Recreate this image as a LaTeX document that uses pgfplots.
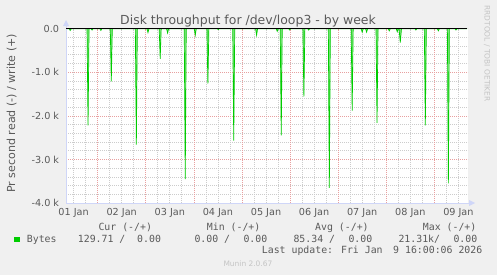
\documentclass[border=0pt]{standalone}
\usepackage{pgfplots}
\pgfplotsset{compat=1.18}
\usepackage{fontspec}
\setmainfont{DejaVu Sans}
\newfontfamily\mono{DejaVu Sans Mono}
\definecolor{bg}{HTML}{F0F0F0}
\definecolor{txt}{HTML}{5A5A5A}
\definecolor{axb}{HTML}{CFD6F8}
\definecolor{mgrid}{HTML}{E8A0A0}
\definecolor{ngrid}{HTML}{CCCCCC}
\definecolor{mgreen}{HTML}{00CC00}
\definecolor{wm}{HTML}{C4C4C4}
\begin{document}
\begin{tikzpicture}[x=1bp,y=1bp]
\fill[bg] (0,0) rectangle (497,275);
\useasboundingbox (0,0) rectangle (497,275);
\coordinate (axsw) at (66,72);
\begin{axis}[
  at={(axsw)}, anchor=south west,
  scale only axis, width=402bp, height=174.3bp,
  xmin=8.2, xmax=208.8, ymin=-4000, ymax=0,
  axis line style={draw=none},
  axis background/.style={fill=white},
  scaled y ticks=false,
  major tick length=0pt, minor tick length=0pt,
  tick label style={font=\fontsize{9.7}{11}\selectfont, text=txt},
  xtick={12,36,60,84,108,132,156,180,204},
  xticklabels={01 Jan,02 Jan,03 Jan,04 Jan,05 Jan,06 Jan,07 Jan,08 Jan,09 Jan},
  xticklabel style={anchor=north, inner sep=0pt, yshift=-5bp},
  minor xtick={12,18,30,36,42,54,60,66,78,84,90,102,108,114,126,132,138,150,156,162,174,180,186,198,204},
  xmajorgrids=false, xminorgrids=true,
  extra x ticks={24,48,72,96,120,144,168,192},
  extra x tick labels={},
  extra x tick style={grid=major, major grid style={mgrid, line width=0.7bp, dash pattern=on 1bp off 1bp}},
  ytick={-4000,-3000,-2000,-1000,0},
  yticklabels={-4.0 k,-3.0 k,-2.0 k,-1.0 k,0.0},
  yticklabel style={anchor=east, inner sep=0pt, xshift=-6.7bp},
  minor y tick num=4,
  ymajorgrids=true, yminorgrids=true,
  major grid style={mgrid, line width=0.7bp, dash pattern=on 1bp off 1bp},
  minor grid style={ngrid, line width=0.7bp, dash pattern=on 1bp off 1bp},
]
\addplot[draw=mgreen, fill=mgreen!50!white, line width=0.7bp] coordinates {
(8.2,0)
(9.8,0)(10.3,-40)(10.8,0)
(18.7,0)(19.2,-2220)(19.7,0)
(20.7,0)(21.2,-30)(21.7,0)
(25.1,0)(25.6,-40)(26.1,0)
(30.3,0)(30.8,-1210)(31.3,0)
(42.8,0)(43.3,-2660)(43.8,0)
(48.6,0)(49.1,-90)(49.6,0)
(54.7,0)(55.2,-690)(55.7,0)
(58.4,0)(58.9,-100)(59.4,0)
(67.2,0)(67.7,-3450)(68.2,0)
(72.2,0)(72.7,-150)(73.2,0)
(78.5,0)(79.0,-1260)(79.5,0)
(83.7,0)(84.2,-20)(84.7,0)
(91.4,0)(91.9,-2570)(92.4,0)
(102.8,0)(103.3,-150)(103.8,0)
(113.1,0)(113.6,-60)(114.1,0)
(115.1,0)(115.6,-2450)(116.1,0)
(119.3,0)(119.8,-30)(120.3,0)
(126.4,0)(126.9,-1560)(127.4,0)
(128.8,0)(129.3,-30)(129.8,0)
(139.1,0)(139.6,-3650)(140.1,0)
(150.5,0)(151.0,-1880)(151.5,0)
(155.5,0)(156.0,-80)(156.5,0)
(157.7,0)(158.2,-80)(158.7,0)
(162.9,0)(163.4,-2160)(163.9,0)
(169.0,0)(169.5,-50)(170.0,0)
(173.0,0)(173.5,-70)(174.0,0)
(174.4,0)(175.0,-320)(175.6,0)
(182.3,0)(182.8,-30)(183.3,0)
(187.0,0)(187.5,-2220)(188.0,0)
(193.5,0)(194.0,-50)(194.5,0)
(198.5,0)(199.0,-3550)(199.5,0)
(202.3,0)(202.8,-30)(203.3,0)
(208.3,0)
};
\end{axis}
% axes with arrows
\draw[axb, line width=1bp] (66,72) -- (469.5,72);
\fill[axb] (469,69) -- (475,72) -- (469,75) -- cycle;
\draw[axb, line width=1bp] (66,72) -- (66,249.5);
\fill[axb] (63,249) -- (66,255) -- (69,249) -- cycle;
% zero line
\draw[black, line width=1bp] (66,246.3) -- (466.5,246.3);
% title
\node[anchor=base, inner sep=0pt, text=txt, font=\fontsize{12.5}{15}\selectfont] at (248,251) {Disk throughput for /dev/loop3 - by week};
% y label
\node[rotate=90, anchor=base, inner sep=0pt, text=txt, font=\fontsize{11.1}{13}\selectfont] at (15.2,161.7) {Pr second read (-) / write (+)};
% legend
\begin{scope}[every node/.style={anchor=base west, inner sep=0pt, text=txt, font=\mono\fontsize{9.9}{12}\selectfont}]
\node at (98.3,44.5) {Cur (-/+)};
\node at (206.7,44.5) {Min (-/+)};
\node at (315,44.5) {Avg (-/+)};
\node at (422.7,44.5) {Max (-/+)};
\node at (26.7,32.8) {Bytes};
\node at (77.7,32.8) {129.71 /};
\node at (137,32.8) {0.00};
\node at (194.3,32.8) {0.00 /};
\node at (243.3,32.8) {0.00};
\node at (293.3,32.8) {85.34 /};
\node at (348.3,32.8) {0.00};
\node at (398.3,32.8) {21.31k/};
\node at (453.3,32.8) {0.00};
\node at (261.7,21.1) {Last update: Fri Jan};
\node at (393.0,21.1) {9 16:00:06 2026};
\end{scope}
\fill[mgreen] (14,32.7) rectangle (20,38.3);
% watermarks
\node[anchor=base west, inner sep=0pt, text=wm, font=\fontsize{7.5}{9}\selectfont] at (223.3,8.5) {Munin 2.0.67};
\node[rotate=-90, anchor=center, inner sep=0pt, text=wm, font=\fontsize{7.5}{9}\selectfont] at (487,221.5) {RRDTOOL / TOBI OETIKER};
\end{tikzpicture}
\end{document}
